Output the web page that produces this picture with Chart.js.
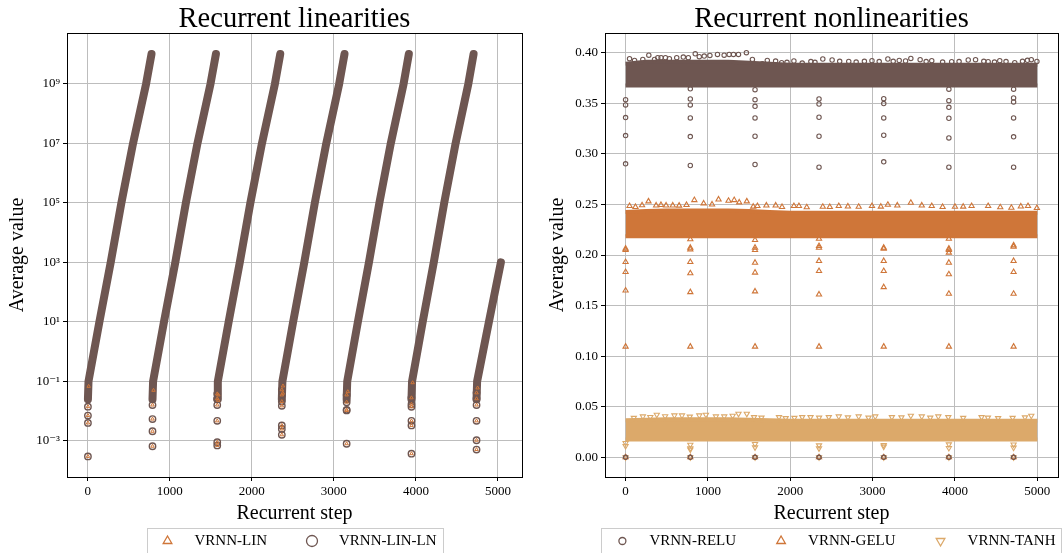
<!DOCTYPE html>
<html>
<head>
<meta charset="utf-8">
<script src="https://cdn.jsdelivr.net/npm/chart.js@4.4.1/dist/chart.umd.min.js"></script>
<style>
  html, body { margin: 0; padding: 0; background: #fff; }
  #wrap { position: relative; width: 1063px; height: 553px; overflow: hidden; }
  #left { position: absolute; left: 0; top: 0; }
  #right { position: absolute; left: 540px; top: 0; }
</style>
</head>
<body>
<div id="wrap">
  <canvas id="left" width="540" height="553"></canvas>
  <canvas id="right" width="523" height="553"></canvas>
</div>
<script>
// Colours
const BROWN = '#6e5651';
const ORANGE = '#cf7639';
const SAND = '#dca96a';

// ---------- Left: recurrent linearities (log axis) ----------
const stepTicks = [0, 1000, 2000, 3000, 4000, 5000];
const logTicks = [1e-3, 1e-1, 1e1, 1e3, 1e5, 1e7, 1e9];

// VRNN-LIN-LN main growth, one list per reset cycle
const lnRunSteps = [
    [3, 10, 143, 281, 411, 553, 712, 778],
    [790, 797, 930, 1068, 1197, 1338, 1497, 1563],
    [1579, 1586, 1718, 1854, 1983, 2124, 2282, 2347],
    [2366, 2373, 2504, 2640, 2768, 2908, 3065, 3130],
    [3156, 3163, 3293, 3428, 3555, 3694, 3850, 3914],
    [3946, 3953, 4083, 4218, 4345, 4484, 4639, 4703],
    [4739, 4746, 4890, 5036]
];
const lnRunValues = [
    [0.025, 0.1, 10, 1e3, 1e5, 1e7, 1e9, 1e10],
    [0.025, 0.1, 10, 1e3, 1e5, 1e7, 1e9, 1e10],
    [0.025, 0.1, 10, 1e3, 1e5, 1e7, 1e9, 1e10],
    [0.025, 0.1, 10, 1e3, 1e5, 1e7, 1e9, 1e10],
    [0.025, 0.1, 10, 1e3, 1e5, 1e7, 1e9, 1e10],
    [0.025, 0.1, 10, 1e3, 1e5, 1e7, 1e9, 1e10],
    [0.025, 0.1, 10, 1e3]
];

// low values right after each reset (both VRNN-LIN and VRNN-LIN-LN)
const linDropSteps = [3, 790, 1579, 2366, 3156, 3946, 4739];
const linDropValues = [
    [0.0141, 0.0071, 0.0040, 0.0003],
    [0.016, 0.0054, 0.0021, 0.00066],
    [0.038, 0.026, 0.016, 0.0047, 0.0009, 0.0007],
    [0.052, 0.035, 0.021, 0.015, 0.0033, 0.0025, 0.0016],
    [0.035, 0.020, 0.011, 0.0105, 0.0008],
    [0.028, 0.017, 0.014, 0.0047, 0.0033, 0.00037],
    [0.041, 0.026, 0.016, 0.0047, 0.00105, 0.00051]
];
// VRNN-LIN points that show through the dense clump
const linClumpSteps = [12, 802, 1592, 1590, 2380, 2378, 3170, 3960, 4752];
const linClumpValues = [0.068, 0.05, 0.035, 0.023, 0.07, 0.04, 0.045, 0.09, 0.06];

// ---------- Right: recurrent nonlinearities ----------
const valueTicks = [0, 0.05, 0.10, 0.15, 0.20, 0.25, 0.30, 0.35, 0.40];
const resetSteps = [0, 786, 1572, 2349, 3135, 3926, 4712];

// dense band limits, every 250 steps
const bandSteps = [0, 250, 500, 750, 1000, 1250, 1500, 1750, 2000, 2250, 2500,
    2750, 3000, 3250, 3500, 3750, 4000, 4250, 4500, 4750, 5000];
const reluTop = [0.389, 0.391, 0.391, 0.391, 0.391, 0.391, 0.390, 0.389, 0.388, 0.388, 0.388,
    0.388, 0.388, 0.388, 0.388, 0.388, 0.388, 0.388, 0.388, 0.388, 0.388];
const reluBottom = [0.3675, 0.3675, 0.3675, 0.3675, 0.3675, 0.3675, 0.3675, 0.3675, 0.3675, 0.3675, 0.3675,
    0.3675, 0.3675, 0.3675, 0.3675, 0.3675, 0.3675, 0.3675, 0.3675, 0.3675, 0.3675];
const geluTop = [0.2425, 0.2435, 0.244, 0.244, 0.244, 0.244, 0.2435, 0.2425, 0.2418, 0.2418, 0.2418,
    0.2418, 0.2418, 0.2418, 0.2418, 0.2418, 0.2418, 0.2418, 0.2418, 0.2418, 0.2418];
const geluBottom = [0.2185, 0.2185, 0.2185, 0.2185, 0.2185, 0.2185, 0.2185, 0.2185, 0.2185, 0.2185, 0.2185,
    0.2185, 0.2185, 0.2185, 0.2185, 0.2185, 0.2185, 0.2185, 0.2185, 0.2185, 0.2185];
const tanhTop = [0.0365, 0.037, 0.0375, 0.0375, 0.0375, 0.0375, 0.037, 0.0365, 0.0362, 0.0362, 0.0362,
    0.0362, 0.0362, 0.0362, 0.0362, 0.0362, 0.0362, 0.0362, 0.0362, 0.0362, 0.0362];
const tanhBottom = [0.0177, 0.0177, 0.0177, 0.0177, 0.0177, 0.0177, 0.0177, 0.0177, 0.0177, 0.0177, 0.0177,
    0.0177, 0.0177, 0.0177, 0.0177, 0.0177, 0.0177, 0.0177, 0.0177, 0.0177, 0.0177];

// single markers sticking out above each band
const reluEdgeSteps = [48, 109, 209, 282, 351, 391, 431, 484, 532, 621, 701, 762, 846, 895, 955, 1024,
    1116, 1197, 1258, 1310, 1371, 1467, 1540, 1661, 1721, 1822, 1895, 2044, 2145, 2395, 2508, 2710,
    2992, 3185, 3323, 3464, 3577, 3718, 3960, 4161, 4250, 4403, 4544, 4726, 4927, 4995,
    1960, 2250, 2300, 2600, 2800, 2900, 3080, 3250, 3400, 3650, 3850, 4050, 4350, 4480, 4620, 4820, 4880];
const reluEdgeValues = [0.3941, 0.3924, 0.3934, 0.3976, 0.3934, 0.3951, 0.3951, 0.3951, 0.3941, 0.3951,
    0.3957, 0.3951, 0.3990, 0.3961, 0.3967, 0.3973, 0.3983, 0.3976, 0.3983, 0.3983, 0.3983, 0.4000,
    0.3934, 0.3891, 0.3924, 0.3917, 0.3901, 0.3918, 0.3898, 0.3938, 0.3928, 0.3914, 0.3921, 0.3938,
    0.3924, 0.3944, 0.3931, 0.3921, 0.3911, 0.3928, 0.3931, 0.3911, 0.3921, 0.3901, 0.3931, 0.3914,
    0.3905, 0.3912, 0.3905, 0.3915, 0.3908, 0.3915, 0.3912, 0.3915, 0.3918, 0.3912, 0.3908, 0.3912,
    0.3915, 0.3908, 0.3912, 0.3915, 0.3925];
const geluEdgeSteps = [48, 278, 371, 492, 573, 835, 948, 1129, 1250, 1319, 1472, 1601, 1710, 1823, 2044,
    2105, 2395, 2589, 2831, 2992, 3185, 3464, 3597, 3718, 4000, 4202, 4403, 4685, 4887, 4995,
    120, 200, 430, 650, 740, 1050, 1380, 1550, 1900, 2200, 2480, 2700, 3100, 3300, 3850, 4100, 4550, 4800];
const geluEdgeValues = [0.2484, 0.2530, 0.2490, 0.2490, 0.2490, 0.2543, 0.2510, 0.2549, 0.2536, 0.2543,
    0.2530, 0.2484, 0.2490, 0.2490, 0.2484, 0.2484, 0.2477, 0.2484, 0.2477, 0.2484, 0.2497, 0.2516,
    0.2490, 0.2484, 0.2477, 0.2484, 0.2484, 0.2467, 0.2484, 0.2464,
    0.2475, 0.2492, 0.2495, 0.2488, 0.2495, 0.2500, 0.2520, 0.2478, 0.2475, 0.2472, 0.2475, 0.2480,
    0.2478, 0.2490, 0.2475, 0.2478, 0.2472, 0.2480];
const tanhEdgeSteps = [210, 379, 593, 685, 895, 976, 1097, 1198, 1371, 1472, 1560, 1863, 1944, 2145,
    2246, 2468, 2589, 2831, 3032, 3234, 3464, 3597, 3798, 3919, 4323, 4524, 4927,
    100, 300, 480, 780, 1300, 1650, 2050, 2350, 2700, 2950, 3350, 3700, 4100, 4400, 4700, 4850];
const tanhEdgeValues = [0.0404, 0.0421, 0.0414, 0.0414, 0.0414, 0.0421, 0.0404, 0.0404, 0.0430, 0.0430,
    0.0397, 0.0397, 0.0387, 0.0397, 0.0397, 0.0397, 0.0404, 0.0404, 0.0404, 0.0397, 0.0411, 0.0404,
    0.0404, 0.0397, 0.0397, 0.0387, 0.0411,
    0.0390, 0.0398, 0.0405, 0.0402, 0.0410, 0.0392, 0.0390, 0.0392, 0.0395, 0.0392, 0.0395, 0.0392,
    0.0390, 0.0392, 0.0390, 0.0395];

// values right after each reset
const reluDrops = [
    [0.3536, 0.3484, 0.3359, 0.3181, 0.2901, 0],
    [0.3643, 0.3543, 0.3484, 0.3355, 0.3171, 0.2885, 0],
    [0.3635, 0.3536, 0.3470, 0.3355, 0.3174, 0.2895, 0],
    [0.3543, 0.3493, 0.3362, 0.3174, 0.2868, 0],
    [0.3546, 0.3497, 0.3355, 0.3184, 0.2921, 0],
    [0.3640, 0.3526, 0.3460, 0.3352, 0.3158, 0.2868, 0],
    [0.3640, 0.3553, 0.3513, 0.3355, 0.3168, 0.2868, 0]
];
const geluDrops = [
    [0.2063, 0.2049, 0.1931, 0.1832, 0.1649, 0.1094, 0],
    [0.2155, 0.2072, 0.2056, 0.1931, 0.1819, 0.1633, 0.1094, 0],
    [0.2148, 0.2072, 0.2049, 0.1924, 0.1826, 0.1640, 0.1094, 0],
    [0.2161, 0.2089, 0.2072, 0.1941, 0.1842, 0.1610, 0.1094, 0],
    [0.2072, 0.2063, 0.1941, 0.1842, 0.1682, 0.1094, 0],
    [0.2161, 0.2063, 0.2049, 0.2023, 0.1924, 0.1809, 0.1617, 0.1094, 0],
    [0.2095, 0.2082, 0.1941, 0.1832, 0.1617, 0.1094, 0]
];
const tanhDrops = [
    [0.0141, 0.0112, 0],
    [0.0124, 0.0090, 0.0076, 0],
    [0.0132, 0.0098, 0],
    [0.0118, 0.0088, 0],
    [0.0120, 0.0105, 0],
    [0.0128, 0.0092, 0],
    [0.0126, 0.0095, 0]
];

// ---------- helpers ----------
const SERIF = "'Liberation Serif', 'DejaVu Serif', serif";
Chart.defaults.font.family = SERIF;
Chart.defaults.color = '#000';

const SUP = { '-': '\u207b', '0': '\u2070', '1': '\u00b9', '2': '\u00b2', '3': '\u00b3', '4': '\u2074',
    '5': '\u2075', '6': '\u2076', '7': '\u2077', '8': '\u2078', '9': '\u2079' };
const powLabel = v => '10' + String(Math.round(Math.log10(v))).split('').map(c => SUP[c]).join('');

const pts = (xs, ys) => xs.map((x, i) => ({ x: x, y: ys[i] }));
const dropPts = (steps, lists) => lists.flatMap((l, i) => l.map(v => ({ x: steps[i], y: v })));

function marker(ctx, style, x, y, r, color, lw) {
    ctx.save();
    ctx.strokeStyle = color;
    ctx.lineWidth = lw;
    ctx.beginPath();
    if (style === 'circle') {
        ctx.arc(x, y, r, 0, Math.PI * 2);
    } else {
        const d = style === 'down' ? -1 : 1;
        for (let i = 0; i < 3; i++) {
            const a = i * 2 * Math.PI / 3;
            const px = x + Math.sin(a) * r, py = y - d * Math.cos(a) * r;
            if (i) ctx.lineTo(px, py); else ctx.moveTo(px, py);
        }
        ctx.closePath();
    }
    ctx.stroke();
    ctx.restore();
}

// black frame on all four sides + title centred over the axes
const framePlugin = {
    id: 'frame',
    afterDraw(chart, args, opts) {
        const { ctx, chartArea: a } = chart;
        ctx.save();
        ctx.strokeStyle = '#000';
        ctx.lineWidth = 1;
        const l = Math.round(a.left) + 0.5, t = Math.round(a.top) + 0.5;
        ctx.strokeRect(l, t, Math.round(a.right) - Math.round(a.left), Math.round(a.bottom) - Math.round(a.top));
        ctx.fillStyle = '#000';
        ctx.font = '28.5px ' + SERIF;
        ctx.textAlign = 'center';
        ctx.textBaseline = 'alphabetic';
        ctx.fillText(opts.title, (a.left + a.right) / 2, 27);
        ctx.restore();
    }
};

// matplotlib style boxed legend below the axes
const boxLegend = {
    id: 'boxLegend',
    afterDraw(chart, args, opts) {
        const { ctx, chartArea } = chart;
        const f = 15, handle = 2 * f, hpad = 0.8 * f, colsp = 2 * f, bpad = 0.4 * f;
        ctx.save();
        ctx.font = f + 'px ' + SERIF;
        const widths = opts.items.map(it => ctx.measureText(it.label).width);
        const total = 2 * bpad + widths.reduce((s, w) => s + handle + hpad + w, 0) + colsp * (opts.items.length - 1);
        let x = (chartArea.left + chartArea.right) / 2 - total / 2;
        const top = 528, cy = 541;
        ctx.strokeStyle = '#cccccc';
        ctx.lineWidth = 1;
        ctx.strokeRect(Math.round(x) + 0.5, top + 0.5, Math.round(total), 40);
        x += bpad;
        opts.items.forEach((it, i) => {
            marker(ctx, it.style, x + handle / 2, cy, it.r, it.color, 1.3);
            ctx.fillStyle = '#000';
            ctx.textBaseline = 'middle';
            ctx.fillText(it.label, x + handle + hpad, cy);
            x += handle + hpad + widths[i] + colsp;
        });
        ctx.restore();
    }
};

const tickFont = { size: 13 };
const gridOpts = { color: '#bdbdbd', lineWidth: 1, tickColor: '#000', tickLength: 4 };
const borderOpts = { display: true, color: '#000', width: 1 };

function xScale(min, max) {
    return {
        type: 'linear', min: min, max: max, z: 1,
        afterBuildTicks: s => { s.ticks = stepTicks.map(v => ({ value: v })); },
        afterFit: s => { s.height = 51; },
        ticks: { font: tickFont, autoSkip: false, maxRotation: 0, padding: 3, callback: v => String(v) },
        grid: gridOpts, border: borderOpts,
        title: { display: true, text: 'Recurrent step', font: { size: 20 }, padding: { top: 0, bottom: 2 } }
    };
}
const yTitle = { display: true, text: 'Average value', font: { size: 20 }, padding: { top: 6, bottom: 0 } };

// ---------- left chart ----------
const leftSets = [
    { label: 'VRNN-LIN', data: dropPts(linDropSteps, linDropValues).concat(pts(linClumpSteps, linClumpValues)),
      pointStyle: 'triangle', pointRadius: 2, borderWidth: 1, borderColor: ORANGE,
      backgroundColor: 'rgba(0,0,0,0)', order: 0 },
    { label: 'VRNN-LIN-LN', data: dropPts(linDropSteps, linDropValues),
      pointStyle: 'circle', pointRadius: 3.2, borderWidth: 1.4, borderColor: BROWN,
      backgroundColor: 'rgba(0,0,0,0)', order: 1 }
];
lnRunSteps.forEach((s, i) => {
    leftSets.push({
        label: 'VRNN-LIN-LN', data: pts(s, lnRunValues[i]), showLine: true,
        borderColor: BROWN, borderWidth: 8, borderCapStyle: 'round', borderJoinStyle: 'round',
        pointRadius: 0, order: 2
    });
});

new Chart(document.getElementById('left'), {
    type: 'scatter',
    data: { datasets: leftSets },
    plugins: [framePlugin, boxLegend],
    options: {
        responsive: false, animation: false, devicePixelRatio: 1, events: [],
        layout: { padding: { left: 0, right: 18, top: 33, bottom: 25 } },
        plugins: {
            legend: { display: false }, tooltip: { enabled: false }, title: { display: false },
            frame: { title: 'Recurrent linearities' },
            boxLegend: { items: [
                { label: 'VRNN-LIN', style: 'triangle', r: 5, color: ORANGE },
                { label: 'VRNN-LIN-LN', style: 'circle', r: 5.5, color: BROWN }
            ] }
        },
        scales: {
            x: xScale(-252, 5293),
            y: {
                type: 'logarithmic', min: 6.1e-5, max: 5.1e10, z: 1,
                afterBuildTicks: s => { s.ticks = logTicks.map(v => ({ value: v })); },
                afterFit: s => { s.width = 67; },
                ticks: { font: tickFont, autoSkip: false, padding: 3, callback: v => powLabel(v) },
                grid: gridOpts, border: borderOpts, title: yTitle
            }
        }
    }
});

// ---------- right chart ----------
function band(top, bottom, color) {
    const common = { type: 'line', borderColor: color, backgroundColor: color, borderWidth: 4,
        borderCapStyle: 'butt', borderJoinStyle: 'round', pointRadius: 0, tension: 0, order: 5 };
    return [
        Object.assign({ label: 'band', data: pts(bandSteps, top), fill: '+1' }, common),
        Object.assign({ label: 'band', data: pts(bandSteps, bottom), fill: false }, common)
    ];
}
const hollow = 'rgba(0,0,0,0)';
const rightSets = [
    { label: 'VRNN-RELU', data: pts(reluEdgeSteps, reluEdgeValues).concat(dropPts(resetSteps, reluDrops)),
      pointStyle: 'circle', pointRadius: 2.2, borderWidth: 1.1, borderColor: BROWN, backgroundColor: hollow, order: 0 },
    { label: 'VRNN-GELU', data: pts(geluEdgeSteps, geluEdgeValues).concat(dropPts(resetSteps, geluDrops)),
      pointStyle: 'triangle', pointRadius: 3, borderWidth: 1.1, borderColor: ORANGE, backgroundColor: hollow, order: 0 },
    { label: 'VRNN-TANH', data: pts(tanhEdgeSteps, tanhEdgeValues).concat(dropPts(resetSteps, tanhDrops)),
      pointStyle: 'triangle', rotation: 180, pointRadius: 3, borderWidth: 1.1, borderColor: SAND, backgroundColor: hollow, order: 0 }
].concat(band(reluTop, reluBottom, BROWN), band(geluTop, geluBottom, ORANGE), band(tanhTop, tanhBottom, SAND));

new Chart(document.getElementById('right'), {
    type: 'scatter',
    data: { datasets: rightSets },
    plugins: [framePlugin, boxLegend],
    options: {
        responsive: false, animation: false, devicePixelRatio: 1, events: [],
        layout: { padding: { left: 0, right: 2, top: 33, bottom: 25 } },
        plugins: {
            legend: { display: false }, tooltip: { enabled: false }, title: { display: false },
            frame: { title: 'Recurrent nonlinearities' },
            boxLegend: { items: [
                { label: 'VRNN-RELU', style: 'circle', r: 3.5, color: BROWN },
                { label: 'VRNN-GELU', style: 'triangle', r: 5, color: ORANGE },
                { label: 'VRNN-TANH', style: 'down', r: 5, color: SAND }
            ] }
        },
        scales: {
            x: xScale(-250, 5250),
            y: {
                type: 'linear', min: -0.0195, max: 0.4195, z: 1,
                afterBuildTicks: s => { s.ticks = valueTicks.map(v => ({ value: v })); },
                afterFit: s => { s.width = 65; },
                ticks: { font: tickFont, autoSkip: false, padding: 3, callback: v => v.toFixed(2) },
                grid: gridOpts, border: borderOpts, title: yTitle
            }
        }
    }
});
</script>
</body>
</html>
